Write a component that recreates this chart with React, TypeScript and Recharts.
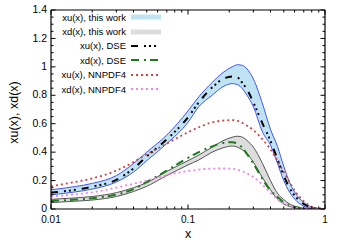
import { ComposedChart, Area, Line, XAxis, YAxis, Legend } from 'recharts';

// x grid shared by every curve (log scale)
const xs = [0.01, 0.015, 0.02, 0.03, 0.04, 0.05, 0.07, 0.1, 0.12, 0.15, 0.18, 0.21, 0.23, 0.25, 0.27, 0.3, 0.35, 0.4, 0.45, 0.5, 0.55, 0.6, 0.7, 0.8, 0.9, 1];

// xu(x), this work (band)
const xuHi = [0.135, 0.158, 0.18, 0.235, 0.32, 0.4, 0.52, 0.69, 0.79, 0.89, 0.96, 1.0, 1.015, 1.01, 0.985, 0.915, 0.74, 0.56, 0.44, 0.3, 0.19, 0.12, 0.045, 0.013, 0.002, 0];
const xuLo = [0.1, 0.12, 0.14, 0.19, 0.26, 0.34, 0.46, 0.61, 0.72, 0.8, 0.86, 0.882, 0.875, 0.845, 0.8, 0.72, 0.54, 0.45, 0.32, 0.2, 0.12, 0.07, 0.02, 0.004, 0, 0];
// xd(x), this work (band)
const xdHi = [0.068, 0.078, 0.088, 0.115, 0.15, 0.185, 0.265, 0.34, 0.38, 0.435, 0.48, 0.505, 0.512, 0.505, 0.482, 0.435, 0.32, 0.2, 0.11, 0.066, 0.036, 0.02, 0.006, 0.001, 0, 0];
const xdLo = [0.045, 0.055, 0.063, 0.088, 0.123, 0.16, 0.235, 0.31, 0.345, 0.4, 0.43, 0.443, 0.435, 0.415, 0.39, 0.33, 0.22, 0.135, 0.07, 0.035, 0.018, 0.01, 0.003, 0, 0, 0];
// DSE
const dseU = [0.115, 0.135, 0.157, 0.205, 0.285, 0.37, 0.49, 0.645, 0.75, 0.855, 0.915, 0.933, 0.925, 0.885, 0.84, 0.75, 0.6, 0.48, 0.35, 0.235, 0.15, 0.095, 0.035, 0.01, 0.002, 0];
const dseD = [0.057, 0.066, 0.076, 0.102, 0.14, 0.19, 0.27, 0.36, 0.4, 0.44, 0.465, 0.47, 0.46, 0.43, 0.385, 0.32, 0.21, 0.13, 0.085, 0.048, 0.026, 0.014, 0.004, 0.001, 0, 0];
// NNPDF4
const nnU = [0.16, 0.19, 0.215, 0.27, 0.33, 0.385, 0.46, 0.54, 0.575, 0.61, 0.622, 0.625, 0.62, 0.605, 0.585, 0.555, 0.49, 0.42, 0.34, 0.26, 0.19, 0.13, 0.055, 0.016, 0.003, 0];
const nnD = [0.088, 0.103, 0.117, 0.15, 0.178, 0.2, 0.238, 0.267, 0.277, 0.284, 0.285, 0.283, 0.277, 0.265, 0.25, 0.225, 0.17, 0.115, 0.07, 0.04, 0.022, 0.012, 0.004, 0.001, 0, 0];

const xLabels = ['0.01', '0.1', '1'];
const yLabels = ['0', '0.2', '0.4', '0.6', '0.8', '1', '1.2', '1.4'];

const FONT = '"Liberation Sans", Arial, sans-serif';

const data = xs.map((x, i) => ({
  x,
  xuBand: [xuLo[i], xuHi[i]],
  xdBand: [xdLo[i], xdHi[i]],
  dseU: dseU[i],
  dseD: dseD[i],
  nnU: nnU[i],
  nnD: nnD[i],
}));

const xMajor = xLabels.map(Number);
const xTicks: number[] = [];
xMajor.slice(0, -1).forEach((d) => {
  for (let k = 1; k < 10; k++) xTicks.push(+(d * k).toPrecision(3));
});
xTicks.push(1);
const yTicks: number[] = [];
for (let i = 0; i <= 28; i++) yTicks.push(+(i * 0.05).toFixed(2));

const isMajorX = (v: number) => xMajor.some((m) => Math.abs(m - v) < 1e-9);
const isMajorY = (v: number) => Math.abs(v * 5 - Math.round(v * 5)) < 1e-6;

const series = [
  { key: 'xuBand', name: 'xu(x), this work', band: true, color: '#bfe3f3', edge: '#4455ee' },
  { key: 'xdBand', name: 'xd(x), this work', band: true, color: '#dddddd', edge: '#555555' },
  { key: 'dseU', name: 'xu(x), DSE', color: '#000000', dash: '7 6 2 3 2 3 2 6', width: 2 },
  { key: 'dseD', name: 'xd(x), DSE', color: '#1c7a1c', dash: '8 5 2 4', width: 2 },
  { key: 'nnU', name: 'xu(x), NNPDF4', color: '#cc4444', dash: '2 3', width: 1.8 },
  { key: 'nnD', name: 'xd(x), NNPDF4', color: '#ee82ee', dash: '2 3', width: 1.8 },
];

function BottomTick({ x, y, payload }: any) {
  const major = isMajorX(payload.value);
  return (
    <g>
      <line x1={x} x2={x} y1={y} y2={y - (major ? 4.5 : 2.5)} stroke="#000" />
      {major && (
        <text x={x} y={y + 13.5} textAnchor="middle" fontSize={10} fontFamily={FONT} fill="#000">
          {xLabels[xMajor.findIndex((m) => Math.abs(m - payload.value) < 1e-9)]}
        </text>
      )}
    </g>
  );
}

function TopTick({ x, y, payload }: any) {
  const major = isMajorX(payload.value);
  return <line x1={x} x2={x} y1={y} y2={y + (major ? 4.5 : 2.5)} stroke="#000" />;
}

function LeftTick({ x, y, payload }: any) {
  const major = isMajorY(payload.value);
  return (
    <g>
      <line x1={x} x2={x + (major ? 4.5 : 2.5)} y1={y} y2={y} stroke="#000" />
      {major && (
        <text x={x - 4} y={y} dy="0.3em" textAnchor="end" fontSize={10.5} fontFamily={FONT} fill="#000">
          {yLabels[Math.round(payload.value * 5)]}
        </text>
      )}
    </g>
  );
}

function RightTick({ x, y, payload }: any) {
  const major = isMajorY(payload.value);
  return <line x1={x} x2={x - (major ? 4.5 : 2.5)} y1={y} y2={y} stroke="#000" />;
}

function LegendBox() {
  return (
    <div style={{ fontFamily: FONT, fontSize: 9.5, color: '#000' }}>
      {series.map((s) => (
        <div key={s.key} style={{ display: 'flex', alignItems: 'center', height: 14.4 }}>
          <span style={{ width: 70, textAlign: 'right', whiteSpace: 'nowrap' }}>{s.name}</span>
          <svg width={30} height={8} style={{ marginLeft: 5 }}>
            {s.band ? (
              <rect x={0} y={1.5} width={30} height={5} fill={s.color} />
            ) : (
              <line x1={0} x2={30} y1={4} y2={4} stroke={s.color} strokeWidth={s.width} strokeDasharray={s.dash} />
            )}
          </svg>
        </div>
      ))}
    </div>
  );
}

export default function App() {
  return (
    <div style={{ position: 'absolute', left: 0, top: 0, width: 343, height: 240, background: '#fff' }}>
      <ComposedChart width={343} height={240} data={data} margin={{ top: 0, right: 0, bottom: 0, left: 0 }} style={{ fontFamily: FONT }}>
        <XAxis
          dataKey="x"
          type="number"
          scale="log"
          domain={[0.01, 1]}
          allowDataOverflow
          ticks={xTicks}
          interval={0}
          height={31}
          tickSize={0}
          tickMargin={0}
          tick={<BottomTick />}
          axisLine={{ stroke: '#000', strokeWidth: 1.2 }}
          label={({ viewBox }: any) => (
            <text x={viewBox.x + viewBox.width / 2} y={237.5} textAnchor="middle" fontSize={12.5} fontFamily={FONT} fill="#000">
              x
            </text>
          )}
        />
        <XAxis
          xAxisId="top"
          orientation="top"
          dataKey="x"
          type="number"
          scale="log"
          domain={[0.01, 1]}
          allowDataOverflow
          ticks={xTicks}
          interval={0}
          height={10}
          tickSize={0}
          tickMargin={0}
          tick={<TopTick />}
          axisLine={{ stroke: '#000', strokeWidth: 1.2 }}
        />
        <YAxis
          type="number"
          domain={[0, 1.4]}
          allowDataOverflow
          ticks={yTicks}
          interval={0}
          width={51}
          tickSize={0}
          tickMargin={0}
          tick={<LeftTick />}
          axisLine={{ stroke: '#000', strokeWidth: 1.2 }}
          label={({ viewBox }: any) => {
            const cx = 14;
            const cy = viewBox.y + viewBox.height / 2 + 3;
            return (
              <text x={cx} y={cy} transform={`rotate(-90, ${cx}, ${cy})`} textAnchor="middle" dominantBaseline="central" fontSize={12.5} fontFamily={FONT} fill="#000">
                xu(x), xd(x)
              </text>
            );
          }}
        />
        <YAxis
          yAxisId="right"
          orientation="right"
          type="number"
          domain={[0, 1.4]}
          allowDataOverflow
          ticks={yTicks}
          interval={0}
          width={18}
          tickSize={0}
          tickMargin={0}
          tick={<RightTick />}
          axisLine={{ stroke: '#000', strokeWidth: 1.2 }}
        />
        {series.map((s) =>
          s.band ? (
            <Area
              key={s.key}
              dataKey={s.key}
              name={s.name}
              type="monotone"
              fill={s.color}
              fillOpacity={1}
              stroke={s.edge}
              strokeWidth={1}
              isAnimationActive={false}
              dot={false}
              activeDot={false}
            />
          ) : (
            <Line
              key={s.key}
              dataKey={s.key}
              name={s.name}
              type="monotone"
              stroke={s.color}
              strokeWidth={s.width}
              strokeDasharray={s.dash}
              isAnimationActive={false}
              dot={false}
              activeDot={false}
            />
          )
        )}
        <Legend
          layout="vertical"
          align="center"
          verticalAlign="middle"
          wrapperStyle={{ left: 56, top: 10, width: 110 }}
          content={() => <LegendBox />}
        />
      </ComposedChart>
    </div>
  );
}
